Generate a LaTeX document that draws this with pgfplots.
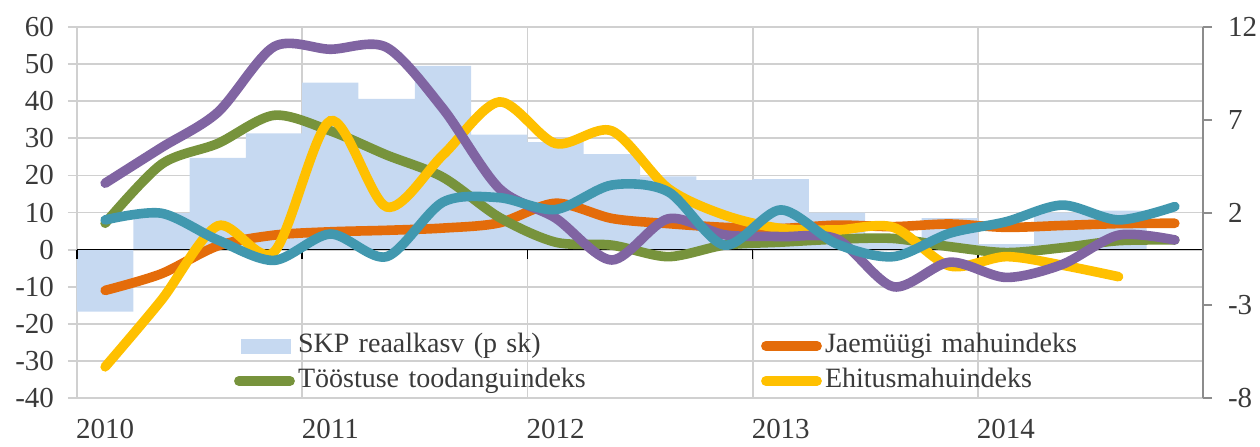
\documentclass[border=0pt]{standalone}
\usepackage{fontspec}
\setmainfont{Liberation Serif}
\usepackage{pgfplots}
\pgfplotsset{compat=1.18}
\definecolor{barblue}{HTML}{C6D9F1}
\definecolor{cOrange}{HTML}{E46C0A}
\definecolor{cGreen}{HTML}{77933C}
\definecolor{cYellow}{HTML}{FFC000}
\definecolor{cPurple}{HTML}{8064A2}
\definecolor{cTeal}{HTML}{4198AF}
\definecolor{gridgray}{HTML}{D0D0D0}
\definecolor{axisgray}{HTML}{8C8C8C}
\definecolor{textgray}{HTML}{3A3A3A}
\pgfplotsset{
  common/.style={
    scale only axis, width=563pt, height=185.5pt,
    at={(0,0)}, anchor=south west,
    xmin=0, xmax=20,
    tick label style={font=\fontsize{14.5}{17}\selectfont, text=textgray},
    /pgf/number format/assume math mode=true,
  },
  mline/.style={line width=4.8pt, line cap=round, smooth, tension=0.5, no marks},
}
\begin{document}
\begin{tikzpicture}
\useasboundingbox (-38.5pt,-24pt) rectangle (591.5pt,199pt);
% axis 1: grid + left labels + year labels
\begin{axis}[common,
  ymin=-40, ymax=60,
  axis lines*=left,
  axis line style={draw=gridgray, line width=0.9pt},
  ytick={-40,-30,...,60},
  xtick={0.5,4.5,8.5,12.5,16.5},
  xticklabels={2010,2011,2012,2013,2014},
  minor xtick={4,8,12,16},
  xminorgrids, ymajorgrids,
  grid style={draw=gridgray, line width=0.9pt},
  minor grid style={draw=gridgray, line width=0.9pt},
  tick align=outside,
  major tick length=4.5pt, minor tick length=0pt,
  xtick style={draw=none},
  ytick style={draw=gridgray, line width=0.9pt},
  yticklabel style={xshift=-3.5pt},
  xticklabel style={yshift=-2.5pt},
]
\end{axis}
% axis 2: bars on right scale
\begin{axis}[common,
  ymin=-8, ymax=12,
  axis y line*=right, axis x line*=middle,
  ytick={-8,-3,2,7,12},
  xtick={0,4,...,20}, xticklabels={},
  tick align=outside, major tick length=4.5pt,
  x axis line style={draw=black, line width=0.7pt},
  y axis line style={draw=axisgray, line width=1pt},
  xtick style={draw=black, line width=0.7pt},
  ytick style={draw=axisgray, line width=1pt},
  yticklabel style={xshift=4.5pt},
  axis on top,
]
\addplot[ybar, bar width=1, fill=barblue, draw=none] coordinates {
(0.5,-3.35) (1.5,1.97) (2.5,4.95) (3.5,6.27) (4.5,9.0) (5.5,8.13) (6.5,9.9) (7.5,6.2)
(8.5,5.8) (9.5,5.15) (10.5,3.95) (11.5,3.75) (12.5,3.8) (13.5,2.0) (14.5,0.36)
(15.5,1.7) (16.5,0.3) (17.5,2.0) (18.5,2.1)
};
\end{axis}
% axis 3: lines on left scale
\begin{axis}[common,
  ymin=-40, ymax=60, hide axis,
  legend columns=2,
  legend cell align=left,
  legend style={at={(0.1395,0.1873)}, anchor=north west, draw=none, fill=none,
    inner sep=0pt, outer sep=0pt, row sep=0pt,
    font=\fontsize{14}{17}\selectfont, text=textgray,
    nodes={inner xsep=0pt, inner ysep=2.5pt, text height=9.5pt, text depth=3pt, text width=231.5pt},
  },
  legend image code/.code={
    \path[draw=none, fill=none] (0pt,-4pt) rectangle (32pt,4pt);
    \draw[#1, line width=4.8pt, line cap=round] (2.4pt,0pt) -- (28pt,0pt);
  },
]
\addlegendimage{legend image code/.code={
    \path[draw=none, fill=none] (0pt,-4pt) rectangle (32pt,4pt);
    \fill[barblue, draw=none] (3.5pt,-3.75pt) rectangle (28.5pt,3.75pt);
  }}
\addplot[mline, cOrange] coordinates {
(0.5,-11) (1.5,-6.5) (2.5,1) (3.5,3.9) (4.5,4.8) (5.5,5.2) (6.5,5.8) (7.5,7.2)
(8.5,12.5) (9.5,8.4) (10.5,7) (11.5,6) (12.5,5.7) (13.5,6.6) (14.5,6.2)
(15.5,6.9) (16.5,6) (17.5,6.5) (18.5,7) (19.5,7.1)
};
\addplot[mline, cGreen] coordinates {
(0.5,7.1) (1.5,23) (2.5,28.6) (3.5,36.2) (4.5,32) (5.5,25.5) (6.5,19.5) (7.5,8.7)
(8.5,2) (9.5,1.2) (10.5,-1.9) (11.5,1.2) (12.5,2) (13.5,2.8) (14.5,3)
(15.5,0.8) (16.5,-0.8) (17.5,0.5) (18.5,2.4) (19.5,2.6)
};
\addplot[mline, cYellow] coordinates {
(0.5,-31.6) (1.5,-13.6) (2.5,6.4) (3.5,-0.6) (4.5,34.7) (5.5,11.5) (6.5,25.5) (7.5,39.8)
(8.5,28.6) (9.5,32) (10.5,16.5) (11.5,9.3) (12.5,5.7) (13.5,5.3) (14.5,6)
(15.5,-4.4) (16.5,-1.9) (17.5,-4.2) (18.5,-7.3)
};
\addplot[mline, cPurple, forget plot] coordinates {
(0.5,17.9) (1.5,27.5) (2.5,37) (3.5,54.7) (4.5,54) (5.5,54.5) (6.5,38) (7.5,16.5)
(8.5,8.5) (9.5,-2.8) (10.5,8.3) (11.5,4) (12.5,3.5) (13.5,2.8) (14.5,-10)
(15.5,-3.4) (16.5,-7.5) (17.5,-4) (18.5,3.9) (19.5,2.6)
};
\addplot[mline, cTeal, forget plot] coordinates {
(0.5,8) (1.5,9.8) (2.5,2.6) (3.5,-2.9) (4.5,4.2) (5.5,-1.9) (6.5,12.8) (7.5,14)
(8.5,10.8) (9.5,17.4) (10.5,15.6) (11.5,1.2) (12.5,10.7) (13.5,1.5) (14.5,-1.9)
(15.5,4.4) (16.5,7.5) (17.5,12) (18.5,8) (19.5,11.6)
};
\legend{SKP reaalkasv (p sk), Jaemüügi mahuindeks, Tööstuse toodanguindeks, Ehitusmahuindeks}
\end{axis}
\end{tikzpicture}
\end{document}
